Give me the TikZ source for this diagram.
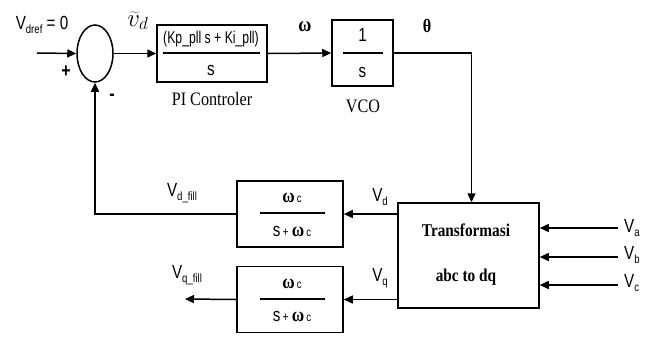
\documentclass[tikz,border=0pt]{standalone}
\usepackage{fontspec}
\setmainfont[FakeStretch=0.8]{Liberation Sans}
\newfontfamily\serifface[FakeStretch=0.85]{Liberation Serif}
\newfontfamily\narrowsans[FakeStretch=0.72]{Liberation Sans}
\usetikzlibrary{shapes.geometric,arrows.meta,calc}
\newcommand\Vsub[1]{V\raisebox{-3.5pt}{\fontsize{12}{12}\selectfont #1}}
\newcommand\omc{{\serifface\bfseries\fontsize{20}{20}\selectfont ω}{\fontsize{12}{12}\selectfont\,c}}
\tikzset{
  blk/.style={draw,line width=1.5pt,inner sep=0pt},
  wire/.style={line width=1.5pt},
  arr/.style={wire,-{Triangle[length=9pt,width=8pt]}},
  fbar/.style={line width=1.3pt},
  lbl/.style={inner sep=0pt,font=\fontsize{19}{19}\selectfont},
  slbl/.style={inner sep=0pt,font=\fontsize{19}{19}\selectfont},
  captext/.style={inner sep=0pt,font=\serifface\fontsize{19}{19}\selectfont},
  bcaptext/.style={inner sep=0pt,font=\serifface\bfseries\fontsize{18}{18}\selectfont},
  greek/.style={inner sep=0pt,font=\serifface\bfseries\fontsize{21}{21}\selectfont},
}
\begin{document}
\begin{tikzpicture}[x=1pt,y=-1pt]
\useasboundingbox (0,0) rectangle (652,338);
% blocks
\node[blk,ellipse,minimum width=36pt,minimum height=57pt] (sum) at (95,53.5) {};
\node[blk,minimum width=110pt,minimum height=57pt] (pi) at (212,53.5) {};
\node[blk,minimum width=61pt,minimum height=66pt] (vco) at (362.5,53) {};
\node[blk,minimum width=141pt,minimum height=105pt] (tr) at (468.5,255.5) {};
\node[blk,minimum width=106pt,minimum height=66pt] (f1) at (290,214) {};
\node[blk,minimum width=106pt,minimum height=66pt] (f2) at (290,299.5) {};
% block contents
\node[slbl,font=\narrowsans\fontsize{17}{17}\selectfont] (pinum) at (211,39) {(Kp\_pll s + Ki\_pll)};
\node[slbl] (piden) at (211,70) {s};
\draw[fbar] (163,53) -- (260,53);
\node[slbl] (vconum) at (362.5,35) {1};
\node[slbl] (vcoden) at (362.5,72) {s};
\draw[fbar] (343,53) -- (383,53);
\node[slbl] (f1num) at (292,198) {\omc};
\node[slbl] (f1den) at (292,231) {s{\fontsize{13}{13}\selectfont\,+}\,\omc};
\draw[fbar] (260,213) -- (325,213);
\node[slbl] (f2num) at (292,283.5) {\omc};
\node[slbl] (f2den) at (292,316.5) {s{\fontsize{13}{13}\selectfont\,+}\,\omc};
\draw[fbar] (260,299) -- (325,299);
\node[bcaptext] (trt1) at (466,230) {Transformasi};
\node[bcaptext] (trt2) at (466,277) {abc to dq};
% captions
\node[captext] (picap) at (212,99) {PI Controler};
\node[captext] (vcocap) at (363,106) {VCO};
% inputs
\coordinate (in) at (37,53);
\coordinate (va) at (618,228);
\coordinate (vb) at (618,257);
\coordinate (vc) at (618,285);
\coordinate (qout) at (185,299);
% connectors
\draw[arr] (in) -- (sum.west);
\draw[arr] (sum.east) -- (pi.west);
\draw[arr] (pi.east) -- (vco.west);
\draw[arr] (vco.east) -| ($(tr.north)+(3,0)$);
\draw[arr] (tr.west |- f1.east) -- (f1.east);
\draw[arr] (tr.west |- f2.east) -- (f2.east);
\draw[arr] (f1.west) -| (sum.south);
\draw[arr] (f2.west) -- (qout);
\draw[arr] (va) -- (va -| tr.east);
\draw[arr] (vb) -- (vb -| tr.east);
\draw[arr] (vc) -- (vc -| tr.east);
% labels
\node[lbl] (ldref) at (42,25) {\Vsub{dref} = 0};
\node[inner sep=0pt,font=\fontsize{24}{24}\selectfont] (ltil) at (138,21) {$\widetilde{v}_d$};
\node[greek] (lom) at (305,27) {ω};
\node[greek,font=\serifface\bfseries\fontsize{19}{19}\selectfont] (lth) at (427,26) {θ};
\node[lbl,font=\bfseries\fontsize{20}{20}\selectfont] (lplus) at (66,72) {+};
\node[lbl,font=\bfseries\fontsize{20}{20}\selectfont] (lminus) at (112,97) {-};
\node[lbl] (lvd) at (380,197) {\Vsub{d}};
\node[lbl] (lvq) at (380,278) {\Vsub{q}};
\node[lbl] (lvdf) at (182,193) {\Vsub{d\_fill}};
\node[lbl] (lvqf) at (187,275) {\Vsub{q\_fill}};
\node[lbl,anchor=west] (lva) at (624,228) {\Vsub{a}};
\node[lbl,anchor=west] (lvb) at (624,255) {\Vsub{b}};
\node[lbl,anchor=west] (lvc) at (624,283) {\Vsub{c}};
\end{tikzpicture}
\end{document}
